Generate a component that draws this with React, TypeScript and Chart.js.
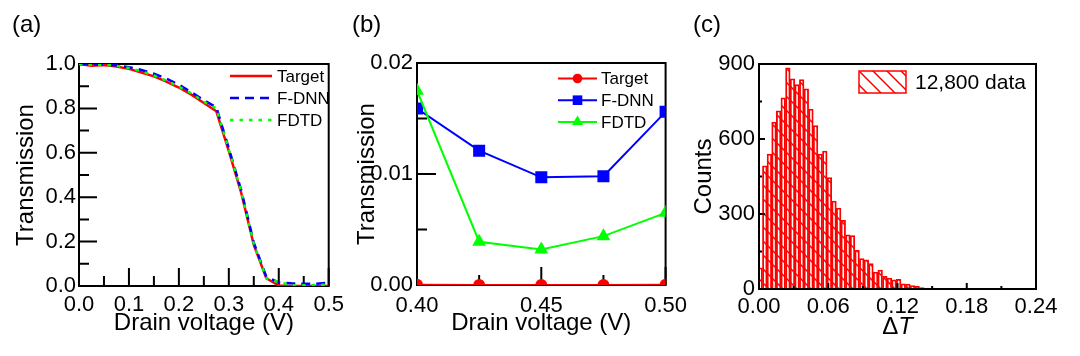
import React, { useEffect, useRef } from 'react';
import { Chart, registerables } from 'chart.js';

Chart.register(...registerables);

const FONT = '"Liberation Sans", Arial, Helvetica, sans-serif';
const TICK_SIZE = 22;
const TITLE_SIZE = 24;

const RED = '#ff0000';
const BLUE = '#0000ff';
const GREEN = '#00ff00';

// ---------------- Panel (a) ----------------
const voltageA = [0, 0.025, 0.05, 0.075, 0.1, 0.125, 0.15, 0.175, 0.2, 0.225, 0.25, 0.275, 0.3, 0.325, 0.35, 0.375, 0.4, 0.425, 0.45, 0.475, 0.5];
const targetA = [1.0, 0.992, 0.995, 0.989, 0.978, 0.962, 0.944, 0.921, 0.894, 0.862, 0.824, 0.787, 0.608, 0.418, 0.185, 0.035, 0.002, 0.0, 0.0, 0.0, 0.0];
const fdnnA = [1.0, 0.998, 0.997, 0.994, 0.986, 0.973, 0.956, 0.934, 0.907, 0.873, 0.837, 0.805, 0.62, 0.43, 0.195, 0.042, 0.0159, 0.0121, 0.0097, 0.0098, 0.0156];
const fdtdA = [1.0, 0.997, 0.997, 0.992, 0.982, 0.967, 0.948, 0.925, 0.898, 0.868, 0.83, 0.8, 0.615, 0.425, 0.19, 0.035, 0.0175, 0.0039, 0.0032, 0.0044, 0.0065];
const xTicksA = [0, 0.1, 0.2, 0.3, 0.4, 0.5];
const xLabelsA = ['0.0', '0.1', '0.2', '0.3', '0.4', '0.5'];
const yTicksA = [0, 0.2, 0.4, 0.6, 0.8, 1.0];
const yLabelsA = ['0.0', '0.2', '0.4', '0.6', '0.8', '1.0'];

// ---------------- Panel (b) ----------------
const voltageB = [0.4, 0.425, 0.45, 0.475, 0.5];
const targetB = [0.00002, 0.00001, 0.00001, 0.00001, 0.00002];
const fdnnB = [0.0159, 0.0121, 0.0097, 0.0098, 0.0156];
const fdtdB = [0.0175, 0.0039, 0.0032, 0.0044, 0.0065];
const xTicksB = [0.4, 0.45, 0.5];
const xLabelsB = ['0.40', '0.45', '0.50'];
const yTicksB = [0, 0.01, 0.02];
const yLabelsB = ['0.00', '0.01', '0.02'];

// ---------------- Panel (c) ----------------
const binCenters = [0.001, 0.005, 0.009, 0.013, 0.017, 0.021, 0.025, 0.029, 0.033, 0.037, 0.041, 0.045, 0.049, 0.053, 0.057, 0.061, 0.065, 0.069, 0.073, 0.077, 0.081, 0.085, 0.089, 0.093, 0.097, 0.101, 0.105, 0.109, 0.113, 0.117, 0.121, 0.125, 0.129, 0.133, 0.137, 0.141, 0.145, 0.149, 0.153, 0.157, 0.161, 0.165, 0.169, 0.173, 0.177, 0.181, 0.185, 0.189, 0.193, 0.197, 0.201, 0.205, 0.209, 0.213];
const counts = [85, 493, 540, 668, 713, 765, 885, 841, 818, 838, 801, 720, 654, 540, 552, 446, 352, 324, 275, 217, 214, 155, 122, 117, 102, 68, 76, 51, 44, 37, 39, 21, 20, 14, 11, 6, 4, 3, 2, 2, 1, 2, 1, 2, 1, 1, 2, 0, 1, 2, 1, 1, 1, 0];
const xTicksC = [0, 0.06, 0.12, 0.18, 0.24];
const xLabelsC = ['0.00', '0.06', '0.12', '0.18', '0.24'];
const yTicksC = [0, 300, 600, 900];
const yLabelsC = ['0', '300', '600', '900'];
const histLabel = '12,800 data';

const toPts = (xs: number[], ys: number[]) => xs.map((x, i) => ({ x, y: ys[i] }));

function scaleOpts(ticksArr: number[], labels: string[], min: number, max: number, size: number, isX: boolean, pad: number, title?: any) {
  return {
    type: 'linear',
    min,
    max,
    offset: false,
    grid: { display: false, drawTicks: false, offset: false },
    border: { display: false },
    afterBuildTicks: (s: any) => {
      s.ticks = ticksArr.map((v) => ({ value: v }));
    },
    afterFit: (s: any) => {
      if (isX) s.height = size;
      else s.width = size;
    },
    ticks: {
      autoSkip: false,
      maxRotation: 0,
      minRotation: 0,
      padding: pad,
      color: '#000',
      font: { family: FONT, size: TICK_SIZE },
      callback: (_v: any, i: number) => labels[i],
    },
    title: title ?? { display: false },
  };
}

function drawFrame(chart: any, o: any) {
  const { ctx, chartArea: ca } = chart;
  const xs = chart.scales.x;
  const ys = chart.scales.y;
  const mids = (a: number[]) => a.slice(1).map((v, i) => (v + a[i]) / 2);
  const majX = xs.ticks.map((t: any) => t.value);
  const majY = ys.ticks.map((t: any) => t.value);
  ctx.save();
  ctx.strokeStyle = '#000';
  ctx.lineWidth = 2;
  ctx.beginPath();
  majX.forEach((v: number) => {
    const p = xs.getPixelForValue(v);
    ctx.moveTo(p, ca.bottom);
    ctx.lineTo(p, ca.bottom - o.xMajor);
  });
  mids(majX).forEach((v: number) => {
    const p = xs.getPixelForValue(v);
    ctx.moveTo(p, ca.bottom);
    ctx.lineTo(p, ca.bottom - o.xMinor);
  });
  majY.forEach((v: number) => {
    const p = ys.getPixelForValue(v);
    ctx.moveTo(ca.left, p);
    ctx.lineTo(ca.left + o.yMajor, p);
  });
  mids(majY).forEach((v: number) => {
    const p = ys.getPixelForValue(v);
    ctx.moveTo(ca.left, p);
    ctx.lineTo(ca.left + o.yMinor, p);
  });
  ctx.stroke();
  ctx.strokeRect(ca.left, ca.top, ca.right - ca.left, ca.bottom - ca.top);
  ctx.restore();
}

const framePlugin = {
  id: 'frameTicks',
  beforeDatasetsDraw(chart: any, _a: any, o: any) {
    if (!o.after) drawFrame(chart, o);
  },
  afterDatasetsDraw(chart: any, _a: any, o: any) {
    if (o.after) drawFrame(chart, o);
  },
};

function drawMarker(ctx: CanvasRenderingContext2D, style: string, x: number, y: number, r: number, color: string) {
  ctx.save();
  ctx.fillStyle = color;
  ctx.beginPath();
  if (style === 'circle') {
    ctx.arc(x, y, r, 0, Math.PI * 2);
  } else if (style === 'rect') {
    const s = Math.SQRT1_2 * r;
    ctx.rect(x - s, y - s, 2 * s, 2 * s);
  } else if (style === 'triangle') {
    let a = 0;
    ctx.moveTo(x + Math.sin(a) * r, y - Math.cos(a) * r);
    a += (2 * Math.PI) / 3;
    ctx.lineTo(x + Math.sin(a) * r, y - Math.cos(a) * r);
    a += (2 * Math.PI) / 3;
    ctx.lineTo(x + Math.sin(a) * r, y - Math.cos(a) * r);
    ctx.closePath();
  }
  ctx.fill();
  ctx.restore();
}

const legendPlugin = {
  id: 'customLegend',
  afterDraw(chart: any, _a: any, o: any) {
    const ctx: CanvasRenderingContext2D = chart.ctx;
    if (o.lines) {
      chart.data.datasets.forEach((ds: any, i: number) => {
        const y = o.y0 + i * o.dy;
        ctx.save();
        ctx.strokeStyle = ds.borderColor;
        ctx.lineWidth = ds.borderWidth;
        ctx.setLineDash(ds.borderDash || []);
        ctx.beginPath();
        ctx.moveTo(o.x0, y);
        ctx.lineTo(o.x1, y);
        ctx.stroke();
        ctx.restore();
        if (ds.pointRadius > 0) {
          drawMarker(ctx, ds.pointStyle, (o.x0 + o.x1) / 2, y, ds.pointRadius * o.markerScale, ds.borderColor);
        }
        ctx.save();
        ctx.fillStyle = '#000';
        ctx.font = `${o.fontSize}px ${FONT}`;
        ctx.textBaseline = 'middle';
        ctx.textAlign = 'left';
        ctx.fillText(ds.label, o.tx, y + 1);
        ctx.restore();
      });
    }
    if (o.hatch) {
      const h = o.hatch;
      ctx.save();
      ctx.fillStyle = h.pattern;
      ctx.fillRect(h.x, h.y, h.w, h.h);
      ctx.strokeStyle = RED;
      ctx.lineWidth = 1.5;
      ctx.strokeRect(h.x, h.y, h.w, h.h);
      ctx.fillStyle = '#000';
      ctx.font = `${h.fontSize}px ${FONT}`;
      ctx.textBaseline = 'middle';
      ctx.textAlign = 'left';
      ctx.fillText(h.text, h.tx, h.y + h.h / 2 + 1);
      ctx.restore();
    }
    if (o.xTitle) {
      const t = o.xTitle;
      ctx.save();
      ctx.fillStyle = '#000';
      ctx.textBaseline = 'alphabetic';
      ctx.textAlign = 'left';
      ctx.font = `${TITLE_SIZE}px ${FONT}`;
      const w1 = ctx.measureText(t.a).width;
      ctx.font = `italic ${TITLE_SIZE}px ${FONT}`;
      const w2 = ctx.measureText(t.b).width;
      const ca = chart.chartArea;
      const cx = (ca.left + ca.right) / 2;
      const start = cx - (w1 + w2) / 2;
      ctx.font = `${TITLE_SIZE}px ${FONT}`;
      ctx.fillText(t.a, start, t.y);
      ctx.font = `italic ${TITLE_SIZE}px ${FONT}`;
      ctx.fillText(t.b, start + w1, t.y);
      ctx.restore();
    }
  },
};

function makeHatch(): CanvasPattern {
  const s = 14;
  const c = document.createElement('canvas');
  c.width = s;
  c.height = s;
  const g = c.getContext('2d')!;
  g.strokeStyle = RED;
  g.lineWidth = 1.5;
  g.beginPath();
  g.moveTo(-1, -1);
  g.lineTo(s + 1, s + 1);
  g.moveTo(-2, s - 2);
  g.lineTo(2, s + 2);
  g.moveTo(s - 2, -2);
  g.lineTo(s + 2, 2);
  g.stroke();
  return g.createPattern(c, 'repeat')!;
}

const titleFont = { family: FONT, size: TITLE_SIZE };

export default function App() {
  const refA = useRef<HTMLCanvasElement>(null);
  const refB = useRef<HTMLCanvasElement>(null);
  const refC = useRef<HTMLCanvasElement>(null);

  useEffect(() => {
    const hatch = makeHatch();

    const chartA = new Chart(refA.current!, {
      type: 'line',
      data: {
        datasets: [
          { label: 'Target', data: toPts(voltageA, targetA), borderColor: RED, borderWidth: 2.5, pointRadius: 0, order: 2 },
          { label: 'F-DNN', data: toPts(voltageA, fdnnA), borderColor: BLUE, borderWidth: 2.5, borderDash: [9, 6], pointRadius: 0, order: 1 },
          { label: 'FDTD', data: toPts(voltageA, fdtdA), borderColor: GREEN, borderWidth: 2.5, borderDash: [3.5, 6], pointRadius: 0, order: 0 },
        ] as any,
      },
      options: {
        animation: false,
        responsive: false,
        layout: { padding: { left: 0, top: 64, right: 19, bottom: 0 } },
        plugins: {
          legend: { display: false },
          tooltip: { enabled: false },
          frameTicks: { xMajor: 18, xMinor: 10, yMajor: 18, yMinor: 10 },
          customLegend: { lines: true, x0: 230, x1: 272, tx: 277, y0: 76, dy: 22, fontSize: 17, markerScale: 1 },
        } as any,
        scales: {
          x: scaleOpts(xTicksA, xLabelsA, 0, 0.5, 70, true, 6, { display: true, text: 'Drain voltage (V)', color: '#000', font: titleFont, padding: { top: 0, bottom: 18.6 } }) as any,
          y: scaleOpts(yTicksA, yLabelsA, 0, 1, 79, false, 3, { display: true, text: 'Transmission', color: '#000', font: titleFont, padding: { top: 12.3, bottom: 0 } }) as any,
        },
      },
      plugins: [framePlugin, legendPlugin],
    });

    const mk = (label: string, xs: number[], ys: number[], color: string, style: string, r: number, order: number) => ({
      label,
      data: toPts(xs, ys),
      borderColor: color,
      backgroundColor: color,
      borderWidth: 2,
      pointStyle: style,
      pointRadius: r,
      pointBorderWidth: 0,
      pointBackgroundColor: color,
      clip: 0,
      order,
    });

    const chartB = new Chart(refB.current!, {
      type: 'line',
      data: {
        datasets: [
          mk('Target', voltageB, targetB, RED, 'circle', 6, 0),
          mk('F-DNN', voltageB, fdnnB, BLUE, 'rect', 8.5, 2),
          mk('FDTD', voltageB, fdtdB, GREEN, 'triangle', 8, 1),
        ] as any,
      },
      options: {
        animation: false,
        responsive: false,
        layout: { padding: { left: 0, top: 63, right: 26, bottom: 0 } },
        plugins: {
          legend: { display: false },
          tooltip: { enabled: false },
          frameTicks: { xMajor: 18, xMinor: 10, yMajor: 19, yMinor: 10 },
          customLegend: { lines: true, x0: 213, x1: 252, tx: 256, y0: 78.5, dy: 21.7, fontSize: 17, markerScale: 0.8 },
        } as any,
        scales: {
          x: scaleOpts(xTicksB, xLabelsB, 0.4, 0.5, 71, true, 8, { display: true, text: 'Drain voltage (V)', color: '#000', font: titleFont, padding: { top: 0, bottom: 18.6 } }) as any,
          y: scaleOpts(yTicksB, yLabelsB, 0, 0.02, 72, false, 4, { display: true, text: 'Transmission', color: '#000', font: titleFont, padding: { top: 7.6, bottom: 0 } }) as any,
        },
      },
      plugins: [framePlugin, legendPlugin],
    });

    const chartC = new Chart(refC.current!, {
      type: 'bar',
      data: {
        datasets: [
          {
            label: histLabel,
            data: toPts(binCenters, counts),
            backgroundColor: hatch,
            borderColor: RED,
            borderWidth: 1.2,
            barPercentage: 1,
            categoryPercentage: 1,
            clip: { left: 0, top: 5, right: 0, bottom: 0 },
          },
        ] as any,
      },
      options: {
        animation: false,
        responsive: false,
        layout: { padding: { left: 0, top: 64, right: 44, bottom: 0 } },
        plugins: {
          legend: { display: false },
          tooltip: { enabled: false },
          frameTicks: { xMajor: 6, xMinor: 3, yMajor: 6, yMinor: 3, after: true },
          customLegend: {
            hatch: { pattern: hatch, x: 169, y: 71, w: 47, h: 22, tx: 225, text: histLabel, fontSize: 21 },
            xTitle: { a: '\u0394', b: 'T', y: 334 },
          },
        } as any,
        scales: {
          x: scaleOpts(xTicksC, xLabelsC, 0, 0.24, 67, true, 5, undefined) as any,
          y: scaleOpts(yTicksC, yLabelsC, 0, 900, 69, false, 4, { display: true, text: 'Counts', color: '#000', font: titleFont, padding: { top: 0, bottom: 0 } }) as any,
        },
      },
      plugins: [framePlugin, legendPlugin],
    });

    return () => {
      chartA.destroy();
      chartB.destroy();
      chartC.destroy();
    };
  }, []);

  const panelLabel = (text: string, left: number) => (
    <div style={{ position: 'absolute', left, top: 9, fontSize: 24, lineHeight: '30px', fontFamily: FONT, color: '#000' }}>{text}</div>
  );

  return (
    <div style={{ position: 'absolute', left: 0, top: 0, width: 1080, height: 356, background: '#fff', overflow: 'hidden' }}>
      <canvas ref={refA} width={350} height={356} style={{ position: 'absolute', left: 0, top: 0 }} />
      <canvas ref={refB} width={350} height={356} style={{ position: 'absolute', left: 345, top: 0 }} />
      <canvas ref={refC} width={390} height={356} style={{ position: 'absolute', left: 690, top: 0 }} />
      {panelLabel('(a)', 12)}
      {panelLabel('(b)', 352)}
      {panelLabel('(c)', 693)}
    </div>
  );
}
